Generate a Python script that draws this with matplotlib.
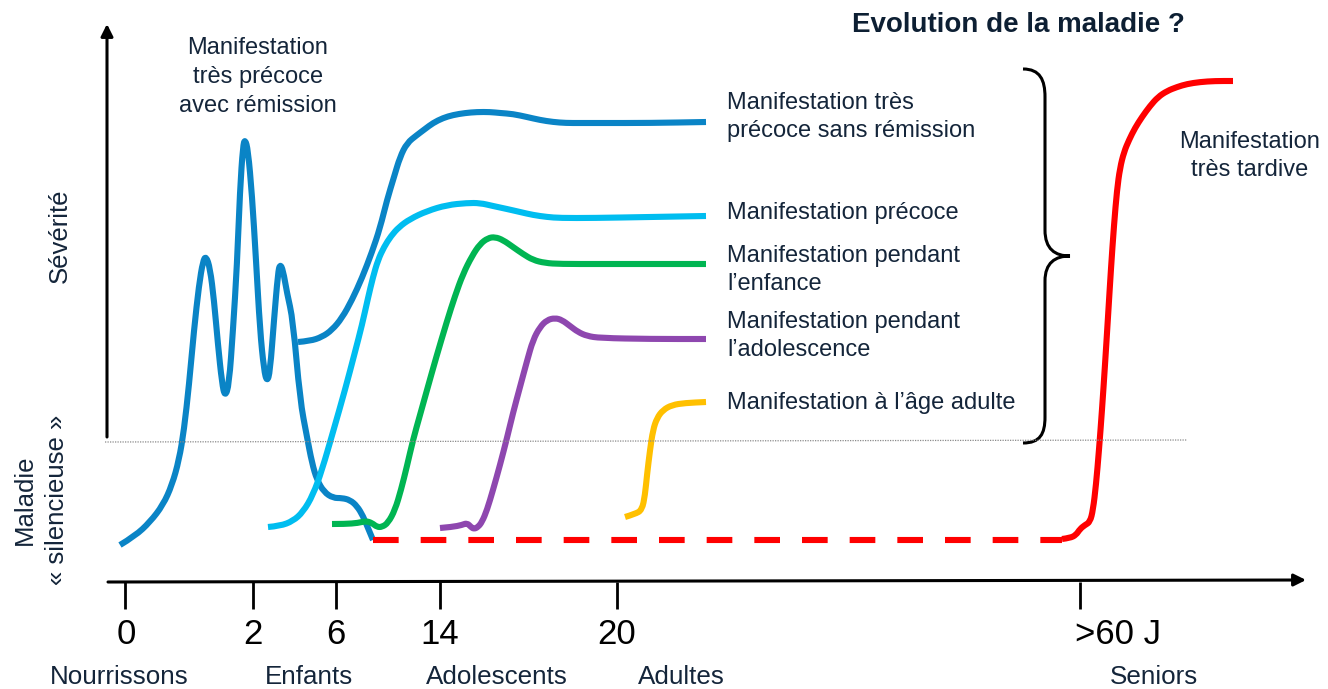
import matplotlib
matplotlib.use('Agg')
import numpy as np
from matplotlib import pyplot as plt
from matplotlib.path import Path
from matplotlib.patches import PathPatch

# schematic drawn in the picture's own pixel frame (y grows downwards)
W, H = 1328, 689

# x axis: age ticks and groups
tick_x = [125, 253, 336, 440, 617, 1080]
tick_label_x = [126, 253, 336, 440, 617, 1118]
tick_labels = ['0', '2', '6', '14', '20', '>60 J']
group_x = [119, 309, 497, 681, 1154]
group_labels = ['Nourrissons', 'Enfants', 'Adolescents', 'Adultes', 'Seniors']

# very early onset with remission
remis_x = [120, 135, 150, 163, 172, 179, 184, 189, 194, 199, 203, 206, 210, 214, 218, 222, 225,
           229, 233, 237, 240, 243, 245, 248, 252, 256, 260, 264, 267, 270, 274, 278, 280,
           283, 287, 293, 300, 307, 312, 317, 324, 333, 342, 350, 357, 363, 368, 373]
remis_y = [545, 536, 522, 505, 485, 460, 430, 385, 330, 285, 261, 256, 268, 300, 345, 383, 397,
           385, 330, 265, 190, 146, 139, 150, 195, 260, 330, 370, 382, 372, 320, 273, 264,
           270, 293, 320, 400, 437, 463, 480, 492, 498, 498, 500, 506, 516, 528, 540]

# very early onset without remission
norem_x = [298, 310, 322, 332, 342, 352, 362, 372, 380, 387, 394, 400, 407, 417, 425, 433, 443,
           453, 465, 477, 490, 500, 513, 527, 540, 553, 566, 580, 600, 650, 706]
norem_y = [342, 341, 337, 330, 318, 300, 278, 252, 228, 200, 177, 157, 143, 135, 129, 123, 118,
           115, 113, 112, 112, 113, 114, 117, 120, 122, 123, 123, 123, 123, 122]

# early onset
early_x = [268, 280, 293, 303, 313, 322, 333, 345, 355, 362, 368, 373, 378, 384, 391, 399, 410,
           427, 447, 467, 480, 493, 507, 520, 533, 547, 560, 593, 650, 706]
early_y = [527, 526, 521, 512, 495, 470, 432, 390, 352, 325, 298, 277, 260, 247, 236, 227, 219,
           211, 205, 203, 203, 206, 209, 212, 215, 217, 218, 218, 217, 216]

# childhood onset
child_x = [332, 345, 358, 366, 372, 377, 382, 388, 395, 401, 407, 413, 420, 427, 436, 447, 455,
           463, 472, 480, 488, 495, 503, 513, 523, 533, 545, 560, 600, 706]
child_y = [524, 524, 523, 521, 523, 527, 527, 523, 510, 490, 466, 440, 415, 390, 358, 321, 296,
           274, 256, 244, 238, 237, 240, 247, 254, 260, 263, 264, 264, 264]

# adolescent onset
ado_x = [440, 452, 462, 467, 471, 474, 478, 482, 487, 493, 500, 507, 513, 520, 527, 533, 540,
         547, 555, 562, 570, 578, 587, 600, 650, 706]
ado_y = [528, 527, 525, 523, 527, 529, 527, 522, 510, 490, 465, 438, 413, 387, 361, 340, 327,
         320, 318, 320, 326, 332, 336, 338, 339, 339]

# adult onset
adult_x = [625, 635, 642, 645, 647, 650, 653, 657, 663, 672, 685, 706]
adult_y = [517, 514, 510, 495, 475, 450, 430, 418, 410, 405, 403, 402]

# silent phase and very late onset
silent_x = [373, 1062]
silent_y = [540, 540]
late_x = [1062, 1070, 1076, 1080, 1085, 1090, 1093, 1096, 1099, 1102, 1105, 1108, 1111, 1114,
          1117, 1120, 1124, 1129, 1135, 1142, 1150, 1158, 1167, 1177, 1187, 1200, 1215, 1233]
late_y = [539, 538, 535, 529, 525, 522, 510, 485, 450, 410, 365, 317, 268, 225, 190, 168, 152,
          140, 128, 117, 106, 97, 91, 87, 84, 82, 81, 81]

navy = '#14253a'
lw = 4.4
plt.rcParams['font.family'] = ['Liberation Sans', 'DejaVu Sans']


def smooth_line(ax, xs, ys, color):
    # round off the corners: quadratic segments through the midpoints
    pts = np.column_stack([xs, ys]).astype(float)
    verts = [pts[0]]
    codes = [Path.MOVETO]
    for i in range(1, len(pts) - 1):
        verts += [pts[i], (pts[i] + pts[i + 1]) / 2]
        codes += [Path.CURVE3, Path.CURVE3]
    verts.append(pts[-1])
    codes.append(Path.LINETO)
    patch = PathPatch(Path(verts, codes), fill=False, lw=lw, edgecolor=color,
                      capstyle='butt', joinstyle='round')
    ax.add_patch(patch)


fig = plt.figure(figsize=(W / 100, H / 100), dpi=100)
ax = fig.add_axes([0, 0, 1, 1])
ax.set_xlim(0, W)
ax.set_ylim(H, 0)
ax.axis('off')

# axes arrows
ax.annotate('', xy=(107, 24), xytext=(107, 437),
            arrowprops=dict(arrowstyle='-|>', lw=2.2, color='black', mutation_scale=18,
                            shrinkA=0, shrinkB=0))
ax.annotate('', xy=(1306, 580), xytext=(108, 582),
            arrowprops=dict(arrowstyle='-|>', lw=2.2, color='black', mutation_scale=18,
                            shrinkA=0, shrinkB=0))
for x in tick_x:
    ax.plot([x, x], [582, 609], color='black', lw=2.0, solid_capstyle='butt')
for x, lab in zip(tick_label_x, tick_labels):
    ax.text(x, 635, lab, ha='center', va='center', fontsize=25, color='black')
for x, lab in zip(group_x, group_labels):
    ax.text(x, 677, lab, ha='center', va='center', fontsize=18.7, color=navy)

# threshold between silent disease and severity
ax.plot([105, 1187], [442, 440], color='#8a8a8a', lw=0.9, ls=(0, (1, 1)))

# curves
smooth_line(ax, remis_x, remis_y, '#0a84c6')
smooth_line(ax, norem_x, norem_y, '#0a84c6')
smooth_line(ax, early_x, early_y, '#00bdf0')
smooth_line(ax, child_x, child_y, '#00b552')
smooth_line(ax, ado_x, ado_y, '#8e47af')
smooth_line(ax, adult_x, adult_y, '#ffc000')
ax.plot(silent_x, silent_y, color='#ff0000', lw=lw, dashes=(4.2, 3.6), dash_capstyle='butt')
smooth_line(ax, late_x, late_y, '#ff0000')

# curly brace
verts = [(1023, 69), (1040, 69), (1045, 80), (1045, 97),
         (1045, 230),
         (1045, 249), (1055, 256), (1070, 256),
         (1055, 256), (1045, 263), (1045, 281),
         (1045, 417),
         (1045, 434), (1040, 443), (1023, 443)]
codes = [Path.MOVETO, Path.CURVE4, Path.CURVE4, Path.CURVE4,
         Path.LINETO,
         Path.CURVE4, Path.CURVE4, Path.CURVE4,
         Path.CURVE4, Path.CURVE4, Path.CURVE4,
         Path.LINETO,
         Path.CURVE4, Path.CURVE4, Path.CURVE4]
ax.add_patch(PathPatch(Path(verts, codes), fill=False, lw=2.2, edgecolor='black'))

# texts
ax.text(1018, 25, 'Evolution de la maladie ?', ha='center', va='center',
        fontsize=20, fontweight='bold', color='#0d1f33')
ax.text(258, 77, 'Manifestation\ntrès précoce\navec rémission', ha='center', va='center',
        fontsize=17, color=navy, linespacing=1.4)
ax.text(1250, 156, 'Manifestation\ntrès tardive', ha='center', va='center',
        fontsize=17, color=navy, linespacing=1.35)
right_labels = ['Manifestation très\nprécoce sans rémission', 'Manifestation précoce',
                'Manifestation pendant\nl’enfance', 'Manifestation pendant\nl’adolescence',
                'Manifestation à l’âge adulte']
right_y = [117, 213, 270, 336, 403]
for y, lab in zip(right_y, right_labels):
    ax.text(727, y, lab, ha='left', va='center', fontsize=17, color=navy, linespacing=1.3)

ax.text(60, 236, 'Sévérité', rotation=90, ha='center', va='center', fontsize=18.5, color=navy)
ax.text(41, 500, 'Maladie\n« silencieuse »', rotation=90, ha='center', va='center',
        multialignment='center', fontsize=18.5, color=navy, linespacing=1.45)

fig.savefig('out.png', dpi=100)
